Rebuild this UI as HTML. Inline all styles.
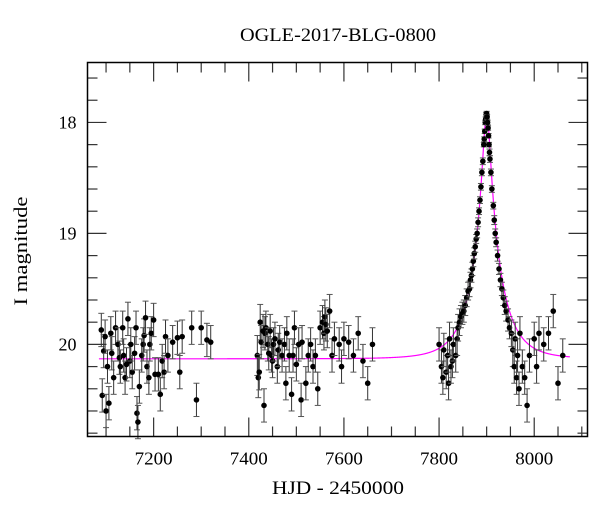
<!DOCTYPE html>
<html><head><meta charset="utf-8"><style>
body{margin:0;background:#fff}
svg text{font-family:"Liberation Serif",serif;fill:#000}
</style></head><body>
<svg id="chart" width="600" height="512" viewBox="0 0 600 512">
<text x="338" y="41" text-anchor="middle" font-size="19" textLength="196" lengthAdjust="spacingAndGlyphs">OGLE-2017-BLG-0800</text>
<text x="338" y="494" text-anchor="middle" font-size="19" textLength="132" lengthAdjust="spacingAndGlyphs">HJD - 2450000</text>
<text transform="translate(27,251) rotate(-90)" text-anchor="middle" font-size="19" textLength="109" lengthAdjust="spacingAndGlyphs">I magnitude</text>
<g id="ticks"></g>
<g id="model"></g>
<g id="pts"></g>
<rect x="87.5" y="62.5" width="500" height="374" fill="none" stroke="#000" stroke-width="1.5"/>
</svg>
<script>
const times=[7090,7092,7095,7098,7100,7103,7106,7110,7112,7116,7120,7125,7128,7130,7135,7137,7140,7143,7146,7150,7152,7155,7160,7163,7165,7167,7170,7175,7178,7180,7183,7186,7190,7192,7195,7200,7203,7210,7214,7218,7222,7225,7230,7240,7250,7255,7260,7280,7290,7300,7312,7320,
7418,7420,7422,7424,7426,7430,7432,7434,7436,7440,7442,7445,7448,7450,7452,7455,7460,7462,7465,7470,7475,7478,7480,7485,7490,7493,7496,7500,7505,7510,7512,7520,7525,7530,7535,7540,7545,7550,7555,7558,7560,7562,7565,7570,7575,7580,7590,7595,7600,7610,7620,7630,7640,7650,7660,
7800,7805,7808,7810,7815,7818,7820,7822,7825,7828,7830,7835,7838,
7840,7843,7846,7849,7852,7855,7858,7861,7864,7866,7868,7870,7872,7874,7876,7878,7880,7882,7884,7886,7888,7890,7892,7894,7895,7896,7897,7898,7899,7900,
7901,7902,7903,7904,7905,7906,7907,7909,7911,7914,7916,7918,7920,7923,7926,7929,7932,7935,7938,7941,7945,7948,7952,7955,7958,7960,7963,7965,7968,7970,7975,7980,7985,7990,8000,8005,8010,8020,8030,8040,8050,8060];
const mags=[19.87,20.46,20.06,19.93,20.6,20.2,20.53,19.9,20.08,20.3,19.85,20.0,20.12,20.2,19.85,20.1,20.3,20.18,19.77,20.15,20.0,20.25,20.08,19.85,20.62,20.7,20.38,20.1,20.0,19.92,19.76,20.2,20.3,20.0,19.9,19.78,20.27,20.27,20.45,20.15,20.25,19.93,20.1,19.98,19.94,20.25,19.93,19.85,20.5,19.85,19.96,19.98,
20.1,20.3,20.25,19.8,19.98,19.88,20.55,19.9,19.85,20.0,20.08,19.88,20.1,20.15,20.0,19.95,20.2,20.05,19.98,20.1,20.0,20.35,19.9,20.1,20.45,20.1,19.85,20.18,20.0,20.5,19.98,20.35,20.1,20.0,20.2,20.1,20.4,19.85,19.8,19.9,19.75,19.82,19.88,19.7,20.1,19.95,20.0,20.2,19.95,19.98,20.1,19.9,20.15,20.35,20.0,
20.0,20.2,20.3,20.05,20.25,20.1,20.35,19.95,20.2,20.15,20.0,20.1,19.95,
19.85,19.8,19.75,19.72,19.7,19.65,19.58,19.52,19.5,19.42,19.38,19.32,19.25,19.18,19.12,19.05,19.0,18.9,18.8,18.7,18.58,18.45,18.35,18.2,18.15,18.08,18.0,17.97,17.93,17.92,
17.95,18.0,18.05,18.12,18.2,18.27,18.33,18.45,18.6,18.75,18.88,19.0,19.08,19.2,19.32,19.42,19.5,19.58,19.65,19.7,19.78,19.85,19.9,20.05,20.2,19.95,20.3,20.1,20.4,19.9,20.2,20.3,20.55,20.1,19.95,20.2,19.9,20.0,19.9,19.7,20.35,20.1];
const errs=[0.15,0.15,0.15,0.15,0.15,0.15,0.15,0.15,0.15,0.15,0.15,0.15,0.15,0.15,0.15,0.15,0.15,0.15,0.15,0.15,0.15,0.15,0.15,0.15,0.15,0.15,0.15,0.15,0.15,0.15,0.15,0.15,0.15,0.15,0.15,0.15,0.15,0.15,0.15,0.15,0.15,0.15,0.15,0.15,0.15,0.15,0.15,0.15,0.15,0.15,0.15,0.15,
0.18,0.18,0.16,0.16,0.15,0.15,0.15,0.15,0.15,0.15,0.15,0.15,0.15,0.15,0.15,0.15,0.15,0.15,0.15,0.15,0.15,0.15,0.15,0.15,0.15,0.15,0.15,0.15,0.15,0.15,0.15,0.15,0.15,0.15,0.15,0.15,0.15,0.15,0.15,0.15,0.15,0.15,0.15,0.15,0.15,0.15,0.15,0.15,0.15,0.15,0.15,0.15,0.15,0.15,0.15,
0.15,0.15,0.15,0.15,0.15,0.15,0.15,0.15,0.15,0.15,0.15,0.15,0.15,
0.12,0.12,0.1,0.1,0.1,0.09,0.08,0.08,0.07,0.07,0.06,0.06,0.05,0.05,0.05,0.04,0.04,0.04,0.03,0.03,0.03,0.03,0.03,0.02,0.02,0.02,0.02,0.02,0.02,0.02,
0.02,0.02,0.02,0.02,0.02,0.03,0.03,0.03,0.03,0.03,0.04,0.04,0.04,0.05,0.05,0.06,0.06,0.07,0.08,0.09,0.1,0.1,0.12,0.15,0.15,0.15,0.15,0.15,0.15,0.15,0.15,0.15,0.15,0.15,0.15,0.15,0.15,0.15,0.15,0.15,0.15,0.15];
const xTicks=[7200,7400,7600,7800,8000];
const yTicks=[18,19,20];
const modelT0=[7900],modelU0=[0.132],modelTE=[58],modelBase=[20.13];
const NS="http://www.w3.org/2000/svg";
const X0=87.5,X1=587.5,Y0=62.5,Y1=436.5,TMIN=7061,TMAX=8112,MMIN=17.46,MMAX=20.83;
const sx=t=>X0+(t-TMIN)/(TMAX-TMIN)*(X1-X0);
const sy=m=>Y0+(m-MMIN)/(MMAX-MMIN)*(Y1-Y0);
function mk(tag,attrs,parent){const e=document.createElementNS(NS,tag);for(const k in attrs)e.setAttribute(k,attrs[k]);parent.appendChild(e);return e;}
const tg=document.getElementById('ticks');
for(let t=7100;t<=8100;t+=50){const maj=t%200===0;const L=maj?19:10;const x=sx(t);
 const a=mk('line',{x1:x,x2:x,y1:Y1,y2:Y1-L,stroke:'#333','stroke-width':1.2},tg);
 const b=mk('line',{x1:x,x2:x,y1:Y0,y2:Y0+L,stroke:'#333','stroke-width':1.2},tg);}
for(let i=0;i<=16;i++){const m=17.6+i*0.2;if(m>MMAX)break;const maj=Math.abs(m-Math.round(m))<1e-6;const L=maj?19:10;const y=sy(m);
 const a=mk('line',{x1:X0,x2:X0+L,y1:y,y2:y,stroke:'#333','stroke-width':1.2},tg);
 const b=mk('line',{x1:X1,x2:X1-L,y1:y,y2:y,stroke:'#333','stroke-width':1.2},tg);}
xTicks.forEach(t=>{const e=mk('text',{x:sx(t),y:Y1+28,'text-anchor':'middle','font-size':18,textLength:38,lengthAdjust:'spacingAndGlyphs'},tg);e.textContent=t;
 
 });
yTicks.forEach(m=>{const e=mk('text',{x:X0-11,y:sy(m)+6,'text-anchor':'end','font-size':18},tg);e.textContent=m;
 
 });
let d='';for(let t=7085;t<=8075;t+=0.5){const u=Math.sqrt(modelU0[0]**2+((t-modelT0[0])/modelTE[0])**2);const A=(u*u+2)/(u*Math.sqrt(u*u+4));const m=modelBase[0]-2.5*Math.log10(A);d+=(d?'L':'M')+sx(t).toFixed(2)+','+sy(m).toFixed(2);}
const mp=mk('path',{d:d,fill:'none',stroke:'#f0f','stroke-width':1.2},document.getElementById('model'));


const pg=document.getElementById('pts');
times.forEach((t,i)=>{const x=sx(t),y=sy(mags[i]),e=errs[i];const y1=sy(mags[i]-e),y2=sy(mags[i]+e);
 const g=mk('g',{},pg);
 mk('line',{x1:x,x2:x,y1:y1,y2:y2,stroke:'#333','stroke-width':1},g);
 mk('line',{x1:x-3,x2:x+3,y1:y1,y2:y1,stroke:'#555','stroke-width':1},g);
 mk('line',{x1:x-3,x2:x+3,y1:y2,y2:y2,stroke:'#555','stroke-width':1},g);
 mk('circle',{cx:x,cy:y,r:2.8,fill:'#000'},g);});
</script>
</body></html>
